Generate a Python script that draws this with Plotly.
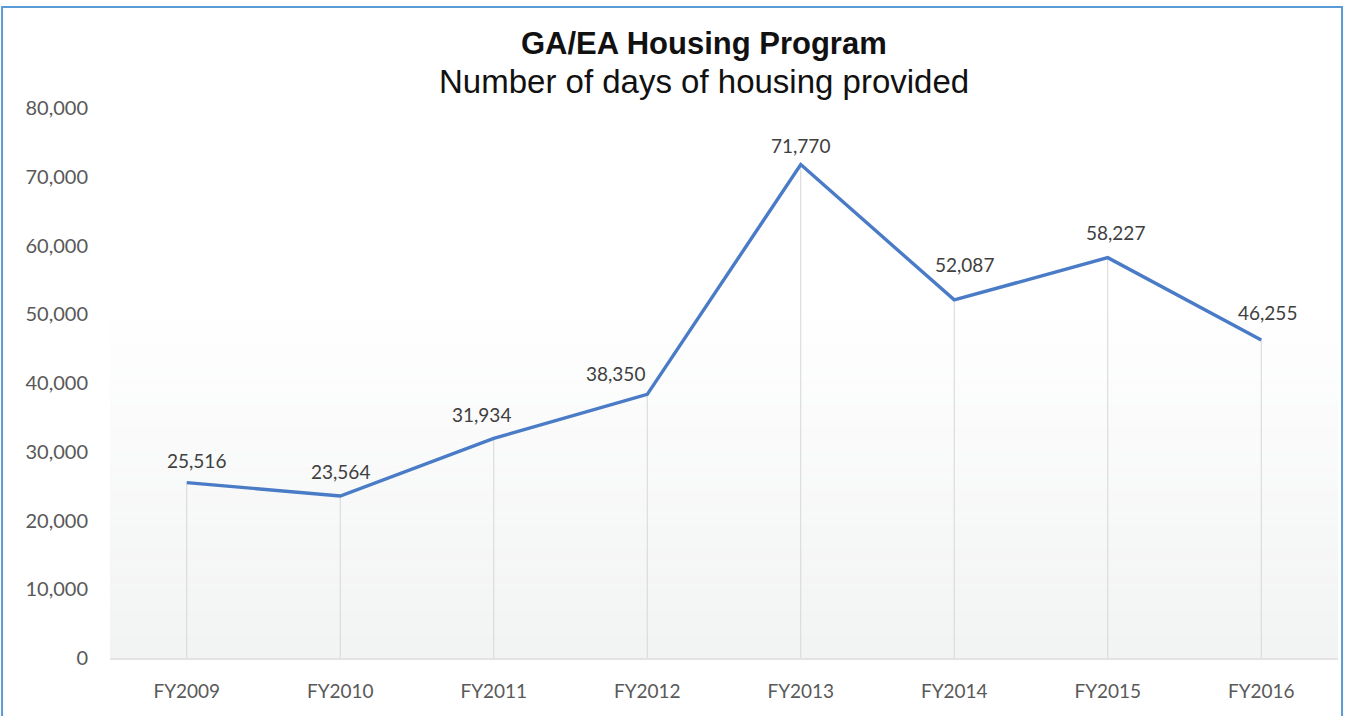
import plotly.graph_objects as go

categories = ["FY2009", "FY2010", "FY2011", "FY2012", "FY2013", "FY2014", "FY2015", "FY2016"]
days = [25516, 23564, 31934, 38350, 71770, 52087, 58227, 46255]
y_ticks = [0, 10000, 20000, 30000, 40000, 50000, 60000, 70000, 80000]
y_tick_labels = ["0", "10,000", "20,000", "30,000", "40,000", "50,000", "60,000", "70,000", "80,000"]
title_main = "GA/EA Housing Program"
title_sub = "Number of days of housing provided"

label_font = "Lato, 'Open Sans', sans-serif"
title_font = "'Liberation Sans', Arial, sans-serif"

fig = go.Figure()

# drop lines from each point to the axis
fig.add_trace(go.Scatter(
    x=categories, y=days, mode="markers",
    marker=dict(size=1, color="rgba(0,0,0,0)"),
    error_y=dict(type="data", symmetric=False, array=[0] * len(days), arrayminus=days,
                 color="#d6d6d6", thickness=1, width=0),
    hoverinfo="skip", showlegend=False,
))

fig.add_trace(go.Scatter(
    x=categories, y=days, mode="lines",
    line=dict(color="#4a7bc6", width=3.4),
    showlegend=False,
))

# data labels (label placement offsets in pixels, as in the original)
label_dx = [10, 0, -12, -32, 0, 10, 8, 6]
label_dy = [22, 25, 24, 21, 19, 35, 25, 28]
for c, v, dx, dy in zip(categories, days, label_dx, label_dy):
    fig.add_annotation(x=c, y=v, text=f"{v:,}", showarrow=False, xshift=dx, yshift=dy,
                       font=dict(family=label_font, size=19, color="#404040"))

# gradient background bands
n = 30
g_top = 0.66
for i in range(n):
    t = i / (n - 1)
    c0 = (255, 255, 255)
    c1 = (242, 243, 243)
    f = 1 - t
    col = tuple(round(c0[k] + (c1[k] - c0[k]) * f) for k in range(3))
    fig.add_shape(type="rect", xref="x domain", yref="y domain",
                  x0=0, x1=1, y0=g_top * i / n, y1=g_top * (i + 1) / n,
                  fillcolor=f"rgb{col}", line=dict(width=0), layer="below")

# outer border
fig.add_shape(type="rect", xref="paper", yref="paper",
              x0=-0.0879, x1=1.0033, y0=-0.2, y1=1.1836,
              line=dict(color="#5b9bd5", width=2), fillcolor="rgba(0,0,0,0)", layer="above")

fig.add_annotation(text=f"<b>{title_main}</b>", xref="paper", yref="paper",
                   x=0.4837, y=(658 - 43) / 550, showarrow=False,
                   font=dict(family=title_font, size=31, color="#111111"), yanchor="middle")
fig.add_annotation(text=title_sub, xref="paper", yref="paper",
                   x=0.4837, y=(658 - 82) / 550, showarrow=False,
                   font=dict(family=title_font, size=33, color="#111111"), yanchor="middle")

fig.update_layout(
    width=1351, height=716,
    margin=dict(l=110, r=13, t=108, b=58),
    paper_bgcolor="white", plot_bgcolor="rgba(0,0,0,0)",
    xaxis=dict(range=[-0.5, 7.5], showgrid=False, showline=True, linecolor="#e3e3e3", linewidth=2,
               ticks="", tickfont=dict(family=label_font, size=19, color="#595959"),
               ticklabelstandoff=15, zeroline=False, fixedrange=True),
    yaxis=dict(range=[0, 80000], tickvals=y_ticks, ticktext=y_tick_labels, showgrid=False,
               zeroline=False, ticks="", tickfont=dict(family=label_font, size=20, color="#595959"),
               ticklabelstandoff=21, fixedrange=True),
)

fig.write_html("out.html", config={"displayModeBar": False},
               post_script="document.body.style.margin='0';document.body.style.overflow='hidden';")
